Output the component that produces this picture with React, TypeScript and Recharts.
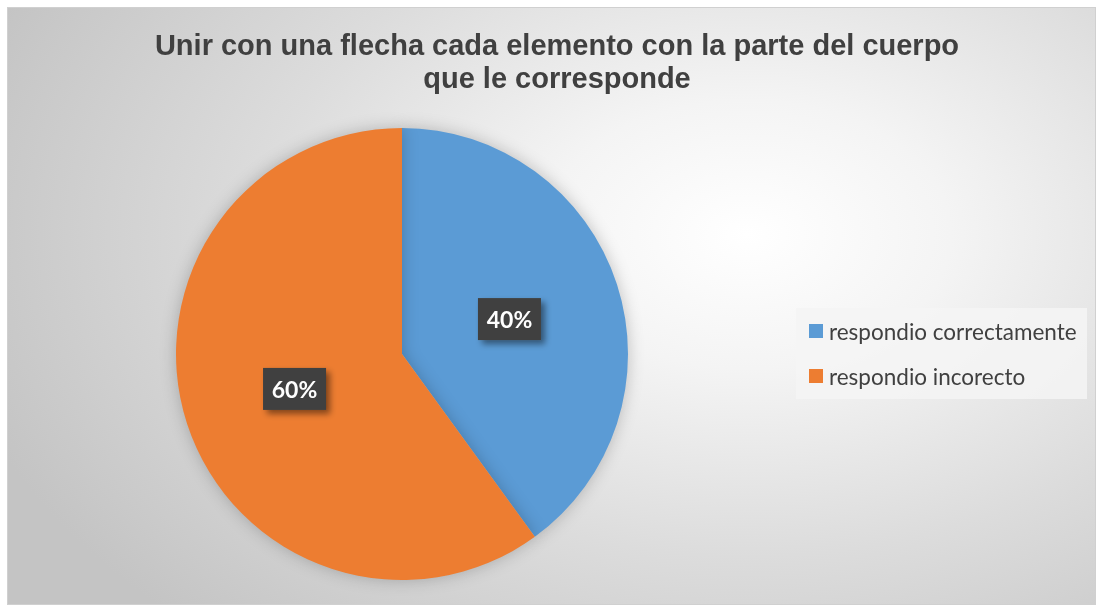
import React from 'react';
import { PieChart, Pie, Cell, Legend } from 'recharts';

const categories = ['respondio correctamente', 'respondio incorecto'];
const values = [40, 60];
const COLORS = ['#5B9BD5', '#ED7D31'];

const data = categories.map((name, i) => ({ name, value: values[i] }));

const RAD = Math.PI / 180;

const renderLabel = (props: any) => {
  const { cx, cy, midAngle, outerRadius, percent } = props;
  const r = outerRadius * 0.5;
  const x = cx + r * Math.cos(-midAngle * RAD);
  const y = cy + r * Math.sin(-midAngle * RAD);
  const w = 63;
  const h = 42;
  return (
    <g>
      <rect x={x - w / 2} y={y - h / 2} width={w} height={h} fill="#404040" filter="url(#lblShadow)" />
      <text
        x={x}
        y={y}
        textAnchor="middle"
        dominantBaseline="central"
        fill="#ffffff"
        fontFamily="Lato, 'Open Sans', sans-serif"
        fontWeight={700}
        fontSize={23}
      >
        {`${Math.round(percent * 100)}%`}
      </text>
    </g>
  );
};

const renderLegend = (props: any) => {
  const { payload } = props;
  return (
    <div
      style={{
        background: 'rgba(245,245,245,0.85)',
        width: 291,
        height: 91,
        boxSizing: 'border-box',
        padding: '12px 0 0 13px',
        fontFamily: "Lato, 'Open Sans', sans-serif",
        fontSize: 22.5,
        color: '#404040'
      }}
    >
      {payload.map((entry: any, i: number) => (
        <div key={i} style={{ display: 'flex', alignItems: 'center', height: 22, marginBottom: i === 0 ? 23 : 0 }}>
          <span style={{ width: 14, height: 14, background: entry.color, display: 'inline-block', marginRight: 6 }} />
          <span>{entry.value}</span>
        </div>
      ))}
    </div>
  );
};

export default function App() {
  return (
    <div style={{ position: 'fixed', left: 0, top: 0, width: 1096, height: 605, background: '#ffffff' }}>
      <style>{`.recharts-pie-sector path { filter: drop-shadow(0 0 8px rgba(0,0,0,0.22)); }`}</style>
      <div
        style={{
          position: 'absolute',
          left: 7,
          top: 7,
          width: 1089,
          height: 598,
          boxSizing: 'border-box',
          border: '1px solid #d0d0d0',
          background:
            'radial-gradient(ellipse 75% 90% at 68% 38%, #ffffff 0%, #f4f4f4 25%, #dcdcdc 60%, #c4c4c4 100%)'
        }}
      >
        <div
          style={{
            position: 'absolute',
            left: 0,
            top: 21,
            width: 1098,
            textAlign: 'center',
            fontFamily: "'Liberation Sans', Arial, sans-serif",
            fontWeight: 700,
            fontSize: 29,
            lineHeight: '33px',
            color: '#404040'
          }}
        >
          Unir con una flecha cada elemento con la parte del cuerpo
          <br />
          que le corresponde
        </div>
        <svg width={0} height={0} style={{ position: 'absolute' }}>
          <defs>
            <filter id="lblShadow" x="-30%" y="-30%" width="170%" height="170%">
              <feDropShadow dx="4" dy="4" stdDeviation="3" floodColor="#000" floodOpacity="0.45" />
            </filter>
          </defs>
        </svg>
        <PieChart width={1089} height={598} style={{ position: 'absolute', left: 0, top: 0 }}>
          <Pie
            data={data}
            dataKey="value"
            nameKey="name"
            cx={389}
            cy={341}
            outerRadius={226}
            startAngle={90}
            endAngle={-270}
            stroke="none"
            label={renderLabel}
            labelLine={false}
            isAnimationActive={false}
          >
            {data.map((entry, i) => (
              <Cell key={entry.name} fill={COLORS[i]} />
            ))}
          </Pie>
          <Legend
            layout="vertical"
            align="right"
            verticalAlign="top"
            content={renderLegend}
            wrapperStyle={{ left: 788, top: 300, width: 291 }}
          />
        </PieChart>
      </div>
    </div>
  );
}
